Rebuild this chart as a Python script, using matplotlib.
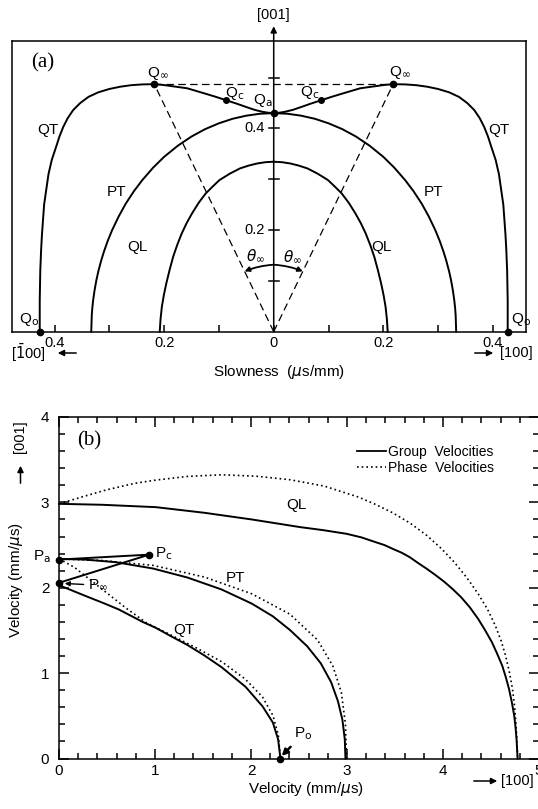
import math
import matplotlib
matplotlib.use('Agg')
import matplotlib.pyplot as plt
from matplotlib.ticker import MultipleLocator
from matplotlib.lines import Line2D
from matplotlib.patches import FancyArrowPatch

plt.rcParams['font.family'] = ['Liberation Sans', 'DejaVu Sans']
plt.rcParams['mathtext.fontset'] = 'dejavusans'

W, H = 538, 809

# ---------------- Panel (a): slowness surfaces (us/mm), right half, mirrored ----------------
qt_outer_x = [0.427, 0.427, 0.426, 0.4245, 0.423, 0.421, 0.419, 0.415, 0.411, 0.405, 0.397, 0.391,
              0.384, 0.376, 0.366, 0.353, 0.338, 0.320, 0.300, 0.280, 0.260, 0.240, 0.218]
qt_outer_y = [0.000, 0.060, 0.120, 0.160, 0.190, 0.220, 0.250, 0.280, 0.310, 0.338, 0.364, 0.384,
              0.403, 0.420, 0.436, 0.450, 0.462, 0.471, 0.4775, 0.482, 0.485, 0.4865, 0.487]
qt_inner_x = [0.218, 0.203, 0.188, 0.1575, 0.127, 0.107, 0.087, 0.068, 0.050, 0.035, 0.020, 0.010, 0.0]
qt_inner_y = [0.487, 0.4856, 0.4834, 0.4788, 0.469, 0.4625, 0.4555, 0.4488, 0.442, 0.4365, 0.4325, 0.4308, 0.430]
pt_x = [0.0, 0.025, 0.05, 0.075, 0.10, 0.125, 0.15, 0.175, 0.20, 0.22, 0.24, 0.255, 0.27, 0.283,
        0.295, 0.303, 0.31, 0.315, 0.32, 0.3235, 0.327, 0.3295, 0.331, 0.332, 0.333]
pt_y = [0.430, 0.4288, 0.425, 0.4189, 0.410, 0.3986, 0.384, 0.3659, 0.344, 0.3228, 0.298, 0.2766,
        0.252, 0.2266, 0.1995, 0.1784, 0.157, 0.1394, 0.119, 0.102, 0.081, 0.0621, 0.047, 0.033, 0.0]
ql_x = [0.0, 0.015, 0.03, 0.045, 0.0614, 0.08, 0.0989, 0.111, 0.124, 0.137, 0.149, 0.159, 0.1678,
        0.176, 0.1835, 0.190, 0.196, 0.2005, 0.2041, 0.2065, 0.208]
ql_y = [0.3344, 0.3335, 0.331, 0.327, 0.3213, 0.311, 0.2984, 0.286, 0.2721, 0.2535, 0.2328, 0.2135,
        0.1934, 0.171, 0.1475, 0.1215, 0.0951, 0.072, 0.0492, 0.025, 0.0]
q_inf = (0.218, 0.487)
q_c = (0.087, 0.4555)
q_a = (0.0, 0.430)
q_o = (0.427, 0.0)
a_xticks = [-0.4, -0.3, -0.2, -0.1, 0.0, 0.1, 0.2, 0.3, 0.4]
a_xticklabels = ['0.4', '', '0.2', '', '0', '', '0.2', '', '0.4']
a_axis_ticks = [0.1, 0.2, 0.3, 0.4, 0.5]
a_axis_labels = {0.2: '0.2', 0.4: '0.4'}

# ---------------- Panel (b): velocities (mm/us) ----------------
ql_grp_x = [0.0, 0.446, 1.009, 1.515, 2.007, 2.513, 2.75, 2.995, 3.15, 3.298, 3.39, 3.476, 3.57, 3.654,
            3.74, 3.832, 3.92, 4.011, 4.10, 4.189, 4.28, 4.367, 4.44, 4.510, 4.565, 4.617, 4.655, 4.688,
            4.717, 4.742, 4.756, 4.766, 4.777]
ql_grp_y = [2.983, 2.972, 2.944, 2.878, 2.800, 2.710, 2.675, 2.632, 2.59, 2.534, 2.50, 2.456, 2.41, 2.358,
            2.29, 2.221, 2.15, 2.072, 1.985, 1.889, 1.77, 1.634, 1.50, 1.361, 1.225, 1.087, 0.95, 0.813,
            0.66, 0.500, 0.36, 0.227, 0.0]
ql_ph_x = [0.0, 0.267, 0.499, 0.802, 1.009, 1.337, 1.693, 2.050, 2.406, 2.763, 3.119, 3.30, 3.476, 3.66,
           3.832, 3.98, 4.118, 4.25, 4.367, 4.465, 4.545, 4.605, 4.652, 4.692, 4.724, 4.745, 4.759, 4.770, 4.777]
ql_ph_y = [2.983, 3.073, 3.148, 3.226, 3.261, 3.304, 3.323, 3.307, 3.265, 3.191, 3.062, 2.975, 2.878, 2.755,
           2.612, 2.462, 2.299, 2.115, 1.928, 1.745, 1.556, 1.38, 1.204, 1.01, 0.813, 0.62, 0.422, 0.21, 0.0]
pt_grp_x = [0.0, 0.267, 0.588, 0.980, 1.337, 1.693, 2.007, 2.228, 2.406, 2.585, 2.727, 2.834, 2.906,
            2.952, 2.977, 2.984]
pt_grp_y = [2.338, 2.330, 2.300, 2.225, 2.120, 1.980, 1.815, 1.665, 1.505, 1.315, 1.115, 0.895, 0.670,
            0.455, 0.225, 0.0]
pt_ph_x = [0.0, 0.446, 0.980, 1.515, 2.007, 2.406, 2.692, 2.852, 2.941, 2.984, 2.995]
pt_ph_y = [2.338, 2.319, 2.262, 2.125, 1.930, 1.690, 1.390, 1.085, 0.775, 0.400, 0.0]
qt_grp_x = [0.0, 0.267, 0.475, 0.624, 0.871, 1.009, 1.170, 1.337, 1.510, 1.693, 1.943, 2.121, 2.228, 2.282, 2.307]
qt_grp_y = [2.030, 1.908, 1.815, 1.745, 1.600, 1.530, 1.430, 1.330, 1.210, 1.070, 0.840, 0.610, 0.420, 0.227, 0.0]
qt_ph_x = [0.0, 0.16, 0.34, 0.52, 0.70, 0.91, 1.16, 1.44, 1.70, 1.94, 2.12, 2.23, 2.285, 2.307]
qt_ph_y = [2.338, 2.24, 2.08, 1.92, 1.76, 1.59, 1.45, 1.29, 1.13, 0.93, 0.72, 0.50, 0.27, 0.0]
p_a = (0.0, 2.330)
p_c = (0.94, 2.388)
p_inf = (0.0, 2.058)
p_o = (2.307, 0.0)


def fx(px):
    return px / W


def fy(py):
    return 1 - py / H


def fig_arrow(fig, p0, p1):
    fig.patches.append(FancyArrowPatch((fx(p0[0]), fy(p0[1])), (fx(p1[0]), fy(p1[1])),
                                       transform=fig.transFigure, arrowstyle='-|>',
                                       mutation_scale=9, lw=1.1, color='k'))


fig = plt.figure(figsize=(W / 100, H / 100), dpi=100)
LW = 1.4
fs = 11

# ================= Panel (a) =================
axA = fig.add_axes([fx(12), fy(331.7), (526 - 12) / W, (331.7 - 40.7) / H])
axA.set_xlim(-0.4776, 0.4604)
axA.set_ylim(0, 0.5725)
for s in axA.spines.values():
    s.set_linewidth(1.1)

qt_x = qt_outer_x + qt_inner_x[1:]
qt_y = qt_outer_y + qt_inner_y[1:]
for sg in (1, -1):
    axA.plot([sg * v for v in qt_x], qt_y, color='k', lw=LW, clip_on=False)
    axA.plot([sg * v for v in pt_x], pt_y, color='k', lw=LW, clip_on=False)
    axA.plot([sg * v for v in ql_x], ql_y, color='k', lw=LW, clip_on=False)
    axA.plot([0, sg * q_inf[0]], [0, q_inf[1]], color='k', lw=0.9, dashes=(6, 3.5))
axA.plot([-q_inf[0], q_inf[0]], [q_inf[1], q_inf[1]], color='k', lw=0.9, dashes=(6, 3.5))

for sg in (1, -1):
    axA.plot(sg * q_inf[0], q_inf[1], 'ko', ms=4.5)
    axA.plot(sg * q_c[0], q_c[1], 'ko', ms=4)
    axA.plot(sg * q_o[0], q_o[1], 'ko', ms=4.5, clip_on=False, zorder=5)
axA.plot(q_a[0], q_a[1], 'ko', ms=4.5)

# central [001] axis with arrow
axA.annotate('', xy=(0, 0.601), xytext=(0, 0), xycoords='data',
             arrowprops=dict(arrowstyle='-|>', lw=1.1, color='k', shrinkA=0, shrinkB=0,
                             mutation_scale=9), annotation_clip=False)
axA.text(0, 0.624, '[001]', ha='center', va='center', fontsize=10.5, clip_on=False)
for t in a_axis_ticks:
    axA.plot([-0.009, 0.009], [t, t], color='k', lw=1.1)
    if t in a_axis_labels:
        axA.text(-0.017, t, a_axis_labels[t], ha='right', va='center', fontsize=10.5)

axA.set_xticks(a_xticks, a_xticklabels)
axA.set_yticks([])
axA.tick_params(axis='x', direction='in', length=5, width=1.1, labelsize=10.5, pad=3)

# theta_inf arcs
r_px = 67.0
sx, sy = 548.0, 508.3
ang = math.atan2(q_inf[0] * sx, q_inf[1] * sy)
cy = r_px / sy
ex, ey = r_px * math.sin(ang) / sx, r_px * math.cos(ang) / sy
for sg, rad in ((-1, 0.08), (1, -0.08)):
    axA.annotate('', xy=(sg * ex, ey), xytext=(0.0, cy),
                 arrowprops=dict(arrowstyle='-|>', lw=1.3, color='k', shrinkA=0, shrinkB=0,
                                 mutation_scale=7, connectionstyle='arc3,rad=%f' % rad))
axA.text(-0.034, 0.149, r'$\theta_\infty$', ha='center', va='center', fontsize=11)
axA.text(0.034, 0.147, r'$\theta_\infty$', ha='center', va='center', fontsize=11)

axA.text(-0.421, 0.528, '(a)', family='Liberation Serif', fontsize=15, ha='center', va='center')
axA.text(-0.412, 0.397, 'QT', fontsize=fs, ha='center', va='center')
axA.text(0.410, 0.397, 'QT', fontsize=fs, ha='center', va='center')
axA.text(-0.287, 0.275, 'PT', fontsize=fs, ha='center', va='center')
axA.text(0.292, 0.275, 'PT', fontsize=fs, ha='center', va='center')
axA.text(-0.249, 0.167, 'QL', fontsize=fs, ha='center', va='center')
axA.text(0.196, 0.167, 'QL', fontsize=fs, ha='center', va='center')
axA.text(-0.211, 0.507, r'Q$_\infty$', fontsize=fs, ha='center', va='center')
axA.text(0.230, 0.509, r'Q$_\infty$', fontsize=fs, ha='center', va='center')
axA.text(-0.072, 0.468, r'Q$_{\rm c}$', fontsize=fs, ha='center', va='center')
axA.text(0.066, 0.470, r'Q$_{\rm c}$', fontsize=fs, ha='center', va='center')
axA.text(-0.020, 0.455, r'Q$_{\rm a}$', fontsize=fs, ha='center', va='center')
axA.text(-0.446, 0.024, r'Q$_{\rm o}$', fontsize=fs, ha='center', va='center')
axA.text(0.452, 0.024, r'Q$_{\rm o}$', fontsize=fs, ha='center', va='center', clip_on=False)

fig.text(fx(28), fy(353), r'[$\bar{1}$00]', fontsize=10.5, ha='center', va='center')
fig.text(fx(516), fy(353), '[100]', fontsize=10.5, ha='center', va='center')
fig.text(fx(279), fy(372), r'Slowness  ($\mu$s/mm)', fontsize=11, ha='center', va='center')
fig_arrow(fig, (79, 353), (55, 353))
fig_arrow(fig, (472, 353), (496, 353))

# ================= Panel (b) =================
axB = fig.add_axes([fx(59), fy(758.5), 480 / W, (758.5 - 417) / H])
axB.set_xlim(0, 5)
axB.set_ylim(0, 4)
for s in axB.spines.values():
    s.set_linewidth(1.1)
DOT = (0, (1, 1.8))
axB.plot(ql_grp_x, ql_grp_y, color='k', lw=LW, clip_on=False)
axB.plot(ql_ph_x, ql_ph_y, color='k', lw=1.2, ls=DOT, clip_on=False)
axB.plot(pt_grp_x, pt_grp_y, color='k', lw=LW, clip_on=False)
axB.plot(pt_ph_x, pt_ph_y, color='k', lw=1.2, ls=DOT, clip_on=False)
axB.plot(qt_grp_x, qt_grp_y, color='k', lw=LW, clip_on=False)
axB.plot(qt_ph_x, qt_ph_y, color='k', lw=1.2, ls=DOT, clip_on=False)
axB.plot([p_a[0], p_c[0], p_inf[0]], [p_a[1], p_c[1], p_inf[1]], color='k', lw=LW, clip_on=False)
for p in (p_a, p_c, p_inf, p_o):
    axB.plot(p[0], p[1], 'ko', ms=4.5, clip_on=False, zorder=5)

axB.xaxis.set_major_locator(MultipleLocator(1))
axB.xaxis.set_minor_locator(MultipleLocator(0.2))
axB.yaxis.set_major_locator(MultipleLocator(1))
axB.yaxis.set_minor_locator(MultipleLocator(0.2))
axB.tick_params(which='both', direction='in', top=True, right=True, width=1.1)
axB.tick_params(which='major', length=7.5)
axB.tick_params(which='minor', length=4.3)
axB.tick_params(axis='both', labelsize=11)
axB.tick_params(axis='y', pad=7)
axB.tick_params(axis='x', pad=4)

axB.text(0.31, 3.725, '(b)', family='Liberation Serif', fontsize=15, ha='center', va='center')
axB.text(2.47, 2.965, 'QL', fontsize=fs, ha='center', va='center')
axB.text(1.84, 2.12, 'PT', fontsize=fs, ha='center', va='center')
axB.text(1.30, 1.50, 'QT', fontsize=fs, ha='center', va='center')
axB.text(-0.08, 2.36, r'P$_{\rm a}$', fontsize=fs, ha='right', va='center', clip_on=False)
axB.text(1.0, 2.405, r'P$_{\rm c}$', fontsize=fs, ha='left', va='center')
axB.annotate(r'P$_\infty$', xy=(0.06, 2.05), xytext=(0.30, 2.03), fontsize=fs, va='center', ha='left',
             arrowprops=dict(arrowstyle='-|>', lw=1.0, color='k', shrinkA=1, shrinkB=0, mutation_scale=7))
axB.annotate(r'P$_{\rm o}$', xy=(2.32, 0.03), xytext=(2.45, 0.29), fontsize=fs, va='center', ha='left',
             arrowprops=dict(arrowstyle='-|>', lw=1.8, color='k', shrinkA=2, shrinkB=0, mutation_scale=9))

hdl = [Line2D([], [], color='k', lw=1.3), Line2D([], [], color='k', lw=1.2, ls=DOT)]
axB.legend(hdl, ['Group  Velocities', 'Phase  Velocities'], loc='upper left',
           bbox_to_anchor=(fx(357), fy(445)), bbox_transform=fig.transFigure, frameon=False,
           fontsize=10, handlelength=2.1, handletextpad=0.1, labelspacing=0.15, borderpad=0,
           borderaxespad=0)

fig.text(fx(306), fy(789), r'Velocity (mm/$\mu$s)', fontsize=11, ha='center', va='center')
fig.text(fx(16), fy(580), r'Velocity (mm/$\mu$s)', fontsize=11, ha='center', va='center', rotation=90)
fig.text(fx(20.5), fy(437), '[001]', fontsize=10.5, ha='center', va='center', rotation=90)
fig_arrow(fig, (20.5, 486), (20.5, 463))
fig.text(fx(517), fy(781), '[100]', fontsize=10.5, ha='center', va='center')
fig_arrow(fig, (471, 781), (500, 781))

fig.savefig('out.png', dpi=100)
